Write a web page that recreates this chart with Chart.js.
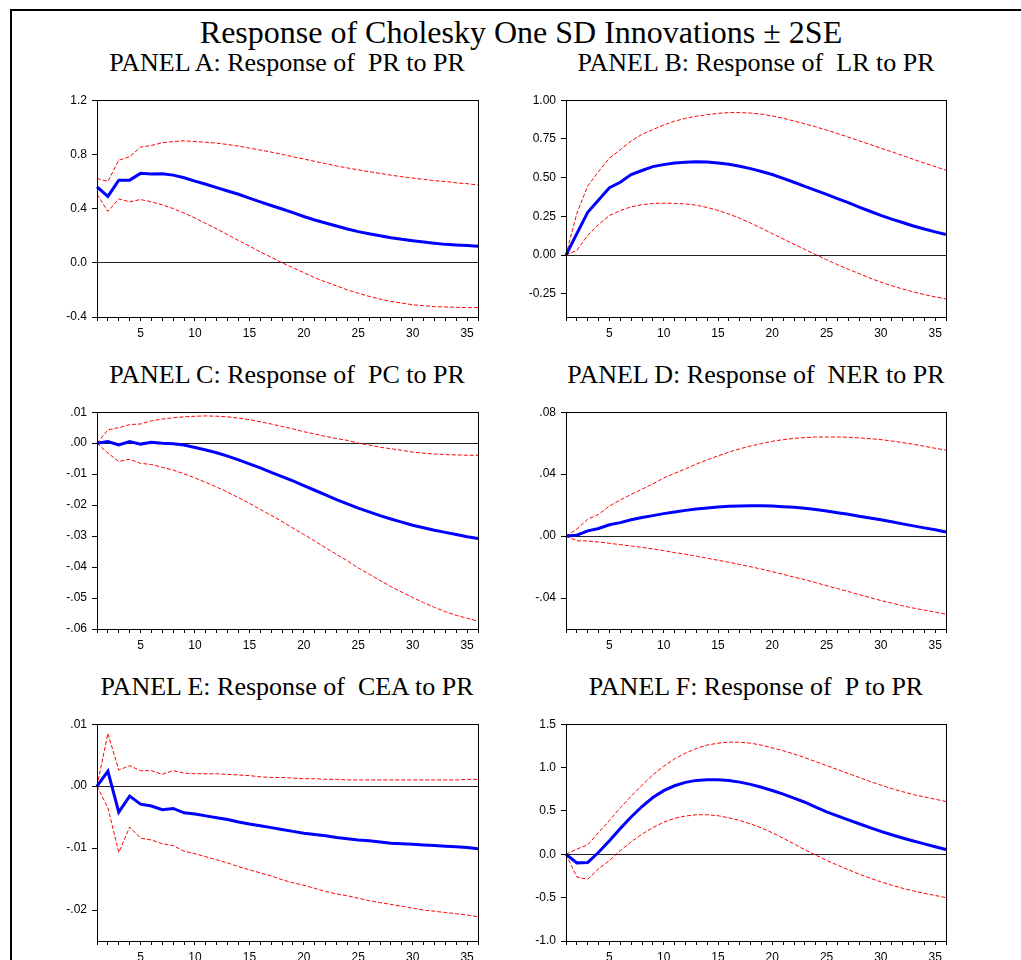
<!DOCTYPE html>
<html>
<head>
<meta charset="utf-8">
<script src="https://cdn.jsdelivr.net/npm/chart.js@4.4.1/dist/chart.umd.min.js"></script>
<style>
    body { margin: 0; width: 1021px; height: 960px; overflow: hidden; background: #fff; position: relative; }
    #frame { position: absolute; left: 10px; top: 9px; width: 1100px; height: 1100px; border-left: 2px solid #000; border-top: 2px solid #000; }
    #maintitle { position: absolute; left: 21px; top: 16px; width: 1000px; text-align: center; font: 32px/32px "Liberation Serif", "Times New Roman", serif; color: #000; white-space: pre; }
    .ptitle { position: absolute; width: 500px; text-align: center; font: 26px/30px "Liberation Serif", "Times New Roman", serif; color: #000; white-space: pre; }
    canvas { position: absolute; }
</style>
</head>
<body>
<div id="frame"></div>
<div id="maintitle">Response of Cholesky One SD Innovations ± 2SE</div>
<div class="ptitle" style="left:37px;top:48px">PANEL A: Response of  PR to PR</div>
<div class="ptitle" style="left:506px;top:48px">PANEL B: Response of  LR to PR</div>
<div class="ptitle" style="left:37px;top:360px">PANEL C: Response of  PC to PR</div>
<div class="ptitle" style="left:506px;top:360px">PANEL D: Response of  NER to PR</div>
<div class="ptitle" style="left:37px;top:672px">PANEL E: Response of  CEA to PR</div>
<div class="ptitle" style="left:506px;top:672px">PANEL F: Response of  P to PR</div>
<canvas id="graph1" width="501" height="259" style="left:37px;top:88px"></canvas>
<canvas id="graph2" width="500" height="259" style="left:506px;top:88px"></canvas>
<canvas id="graph3" width="501" height="259" style="left:37px;top:400px"></canvas>
<canvas id="graph4" width="500" height="259" style="left:506px;top:400px"></canvas>
<canvas id="graph5" width="501" height="259" style="left:37px;top:712px"></canvas>
<canvas id="graph6" width="500" height="259" style="left:506px;top:712px"></canvas>
<script>
// DATA
const periods = [1,2,3,4,5,6,7,8,9,10,11,12,13,14,15,16,17,18,19,20,21,22,23,24,25,26,27,28,29,30,31,32,33,34,35,36];

// panel A : PR to PR
const respA = [0.56,0.49,0.61,0.61,0.66,0.655,0.657,0.647,0.628,0.603,0.58,0.555,0.53,0.506,0.477,0.45,0.423,0.397,0.37,0.342,0.316,0.294,0.272,0.25,0.23,0.214,0.2,0.185,0.173,0.163,0.153,0.144,0.136,0.131,0.127,0.122];
const upA = [0.623,0.60,0.757,0.783,0.854,0.866,0.886,0.895,0.90,0.895,0.89,0.883,0.873,0.861,0.847,0.832,0.817,0.80,0.783,0.766,0.749,0.732,0.715,0.70,0.686,0.672,0.66,0.647,0.635,0.625,0.616,0.606,0.60,0.59,0.584,0.574];
const lowA = [0.506,0.38,0.472,0.45,0.467,0.45,0.428,0.40,0.367,0.33,0.29,0.25,0.207,0.165,0.124,0.08,0.041,0.0,-0.036,-0.073,-0.11,-0.141,-0.17,-0.2,-0.224,-0.248,-0.268,-0.285,-0.297,-0.31,-0.316,-0.324,-0.326,-0.328,-0.331,-0.33];
const ticksA = [-0.4, 0, 0.4, 0.8, 1.2];
const labelsA = ['-0.4', '0.0', '0.4', '0.8', '1.2'];

// panel B : LR to PR
const respB = [0,0.138,0.276,0.355,0.435,0.47,0.52,0.546,0.571,0.584,0.594,0.60,0.603,0.601,0.595,0.586,0.573,0.558,0.54,0.52,0.495,0.47,0.444,0.418,0.392,0.365,0.338,0.31,0.283,0.256,0.232,0.21,0.188,0.168,0.15,0.133];
const upB = [0,0.27,0.446,0.54,0.626,0.68,0.737,0.78,0.81,0.84,0.864,0.883,0.896,0.906,0.915,0.92,0.92,0.917,0.91,0.898,0.883,0.866,0.847,0.828,0.807,0.785,0.762,0.738,0.714,0.69,0.667,0.643,0.618,0.594,0.571,0.548];
const lowB = [0,0.03,0.127,0.197,0.255,0.287,0.312,0.325,0.333,0.335,0.334,0.33,0.322,0.307,0.288,0.265,0.238,0.207,0.173,0.138,0.104,0.07,0.036,0.003,-0.03,-0.062,-0.092,-0.12,-0.149,-0.175,-0.198,-0.219,-0.238,-0.255,-0.27,-0.283];
const ticksB = [-0.25, 0, 0.25, 0.5, 0.75, 1.0];
const labelsB = ['-0.25', '0.00', '0.25', '0.50', '0.75', '1.00'];

// panel C : PC to PR
const respC = [0,0.0005,-0.0006,0.0005,-0.0003,0.0003,0,-0.0002,-0.0006,-0.0014,-0.0022,-0.0031,-0.0042,-0.0054,-0.0067,-0.008,-0.0094,-0.0108,-0.0122,-0.0137,-0.0152,-0.0167,-0.0182,-0.0196,-0.021,-0.0222,-0.0234,-0.0245,-0.0255,-0.0265,-0.0273,-0.0281,-0.0288,-0.0295,-0.0302,-0.0308];
const upC = [0,0.0043,0.005,0.006,0.0062,0.0072,0.0078,0.0082,0.0085,0.0087,0.0088,0.0087,0.0085,0.0081,0.0076,0.0069,0.0062,0.0054,0.0046,0.0037,0.003,0.0022,0.0015,0.0009,0.0,-0.0006,-0.0013,-0.0018,-0.0023,-0.0029,-0.0032,-0.0035,-0.0037,-0.0038,-0.0039,-0.0039];
const lowC = [0,-0.0032,-0.0059,-0.0052,-0.0065,-0.0069,-0.0078,-0.0087,-0.0099,-0.0112,-0.0127,-0.0142,-0.0158,-0.0176,-0.0194,-0.0214,-0.0233,-0.0253,-0.0274,-0.0295,-0.0316,-0.0338,-0.0359,-0.038,-0.0403,-0.0423,-0.0443,-0.0463,-0.0481,-0.0498,-0.0515,-0.053,-0.0544,-0.0556,-0.0565,-0.0575];
const ticksC = [-0.06, -0.05, -0.04, -0.03, -0.02, -0.01, 0, 0.01];
const labelsC = ['-.06', '-.05', '-.04', '-.03', '-.02', '-.01', '.00', '.01'];

// panel D : NER to PR
const respD = [0,0.0006,0.0034,0.0049,0.0073,0.0087,0.0105,0.012,0.0132,0.0145,0.0156,0.0166,0.0175,0.0181,0.0188,0.0192,0.0194,0.0196,0.0196,0.0194,0.019,0.0186,0.0179,0.0171,0.0162,0.0151,0.0141,0.0128,0.0117,0.0105,0.0092,0.0079,0.0066,0.0053,0.0041,0.0026];
const upD = [0,0.0045,0.0109,0.014,0.0194,0.0233,0.0269,0.0303,0.0337,0.0375,0.0405,0.0434,0.0465,0.0492,0.0518,0.0542,0.0563,0.0582,0.0597,0.0612,0.0623,0.0631,0.0636,0.064,0.064,0.064,0.0638,0.0634,0.0629,0.0623,0.0614,0.0604,0.0593,0.058,0.0567,0.0555];
const lowD = [0,-0.003,-0.0032,-0.0038,-0.0047,-0.0055,-0.0064,-0.0073,-0.0083,-0.0094,-0.0107,-0.0117,-0.013,-0.0143,-0.0156,-0.0169,-0.0183,-0.0198,-0.0213,-0.023,-0.0247,-0.0265,-0.0282,-0.0301,-0.032,-0.0339,-0.0358,-0.0378,-0.0397,-0.0416,-0.0433,-0.045,-0.0465,-0.0478,-0.0491,-0.0504];
const ticksD = [-0.04, 0, 0.04, 0.08];
const labelsD = ['-.04', '.00', '.04', '.08'];

// panel E : CEA to PR
const respE = [0,0.0024,-0.0042,-0.0016,-0.0029,-0.0032,-0.0038,-0.0036,-0.0043,-0.0045,-0.0048,-0.0051,-0.0054,-0.0058,-0.0061,-0.0064,-0.0067,-0.007,-0.0073,-0.0076,-0.0078,-0.008,-0.0083,-0.0085,-0.0087,-0.0088,-0.009,-0.0092,-0.0093,-0.0094,-0.0095,-0.0096,-0.0097,-0.0098,-0.0099,-0.0101];
const upE = [0,0.0085,0.0026,0.0033,0.0025,0.0025,0.0019,0.0025,0.0021,0.002,0.002,0.002,0.0019,0.0018,0.0017,0.0015,0.0014,0.0014,0.0013,0.0012,0.0012,0.0011,0.0011,0.001,0.001,0.001,0.001,0.001,0.001,0.001,0.001,0.001,0.001,0.001,0.0011,0.0011];
const lowE = [0,-0.0035,-0.0107,-0.0066,-0.0084,-0.0087,-0.0093,-0.0096,-0.0105,-0.0109,-0.0114,-0.0119,-0.0124,-0.013,-0.0135,-0.014,-0.0145,-0.0151,-0.0156,-0.016,-0.0165,-0.017,-0.0174,-0.0177,-0.0181,-0.0185,-0.0188,-0.0191,-0.0194,-0.0197,-0.02,-0.0202,-0.0204,-0.0206,-0.0208,-0.0211];
const ticksE = [-0.02, -0.01, 0, 0.01];
const labelsE = ['-.02', '-.01', '.00', '.01'];

// panel F : P to PR
const respF = [0,-0.099,-0.095,0.023,0.156,0.297,0.43,0.551,0.654,0.734,0.79,0.829,0.852,0.859,0.859,0.85,0.832,0.806,0.773,0.735,0.693,0.648,0.6,0.545,0.49,0.443,0.397,0.352,0.308,0.265,0.225,0.188,0.153,0.12,0.087,0.055];
const upF = [0,0.06,0.11,0.25,0.39,0.536,0.67,0.795,0.916,1.015,1.099,1.167,1.22,1.259,1.281,1.293,1.293,1.281,1.259,1.228,1.194,1.156,1.114,1.068,1.023,0.977,0.932,0.886,0.84,0.798,0.757,0.722,0.688,0.662,0.635,0.608];
const lowF = [0,-0.262,-0.289,-0.167,-0.072,0.042,0.144,0.232,0.308,0.369,0.414,0.441,0.456,0.456,0.445,0.42,0.39,0.35,0.305,0.248,0.185,0.12,0.052,-0.01,-0.07,-0.125,-0.178,-0.228,-0.275,-0.318,-0.357,-0.392,-0.423,-0.45,-0.475,-0.5];
const ticksF = [-1.0, -0.5, 0, 0.5, 1.0, 1.5];
const labelsF = ['-1.0', '-0.5', '0.0', '0.5', '1.0', '1.5'];


Chart.defaults.font.family = '"Liberation Sans", Arial, sans-serif';
Chart.defaults.font.size = 12;
Chart.defaults.color = '#000';

// box around the plot area
const frameBox = {
    id: 'frameBox',
    afterDraw: function (chart) {
        const a = chart.chartArea;
        const ctx = chart.ctx;
        ctx.save();
        ctx.strokeStyle = '#000';
        ctx.lineWidth = 1;
        ctx.strokeRect(Math.round(a.left) + 0.5, Math.round(a.top) + 0.5, Math.round(a.right - a.left), Math.round(a.bottom - a.top));
        ctx.restore();
    }
};

//CHARTS
function makePanel(sel, resp, up, low, yMin, yMax, yTicks, yLabels) {
    const data = {
        labels: periods,
        datasets: [{
            label: 'Response',
            data: resp,
            borderColor: '#0000ff',
            borderWidth: 3,
            pointRadius: 0,
            tension: 0
        }, {
            label: '+2SE',
            data: up,
            borderColor: '#ff0000',
            borderWidth: 1,
            borderDash: [4, 2],
            pointRadius: 0,
            tension: 0
        }, {
            label: '-2SE',
            data: low,
            borderColor: '#ff0000',
            borderWidth: 1,
            borderDash: [4, 2],
            pointRadius: 0,
            tension: 0
        }]
    };

    const config = {
        type: 'line',
        data: data,
        plugins: [frameBox],
        options: {
            responsive: false,
            animation: false,
            layout: { padding: { left: 0, right: 60, top: 10, bottom: 0 } },
            plugins: {
                legend: { display: false },
                tooltip: { enabled: false }
            },
            scales: {
                x: {
                    offset: false,
                    afterFit: function (scale) { scale.height = 30; },
                    grid: { drawOnChartArea: false, tickLength: 4, tickColor: '#000' },
                    border: { color: '#000' },
                    ticks: {
                        autoSkip: false,
                        maxRotation: 0,
                        padding: 5,
                        callback: function (v, i) {
                            const p = periods[i];
                            return p % 5 === 0 ? String(p) : '';
                        }
                    }
                },
                y: {
                    min: yMin,
                    max: yMax,
                    afterBuildTicks: function (scale) {
                        scale.ticks = yTicks.map(function (v) { return { value: v }; });
                    },
                    afterFit: function (scale) { scale.width = 60; },
                    grid: {
                        color: function (ctx) {
                            return ctx.tick && ctx.tick.value === 0 ? '#222' : 'rgba(0,0,0,0)';
                        },
                        tickColor: '#000',
                        tickLength: 5
                    },
                    border: { color: '#000' },
                    ticks: {
                        autoSkip: false,
                        padding: 5,
                        callback: function (v, i) { return yLabels[i]; }
                    }
                }
            }
        }
    };
    return new Chart(document.querySelector(sel), config);
}

makePanel('#graph1', respA, upA, lowA, -0.4, 1.2, ticksA, labelsA);
makePanel('#graph2', respB, upB, lowB, -0.4, 1.0, ticksB, labelsB);
makePanel('#graph3', respC, upC, lowC, -0.06, 0.01, ticksC, labelsC);
makePanel('#graph4', respD, upD, lowD, -0.06, 0.08, ticksD, labelsD);
makePanel('#graph5', respE, upE, lowE, -0.025, 0.01, ticksE, labelsE);
makePanel('#graph6', respF, upF, lowF, -1.0, 1.5, ticksF, labelsF);
</script>
</body>
</html>
